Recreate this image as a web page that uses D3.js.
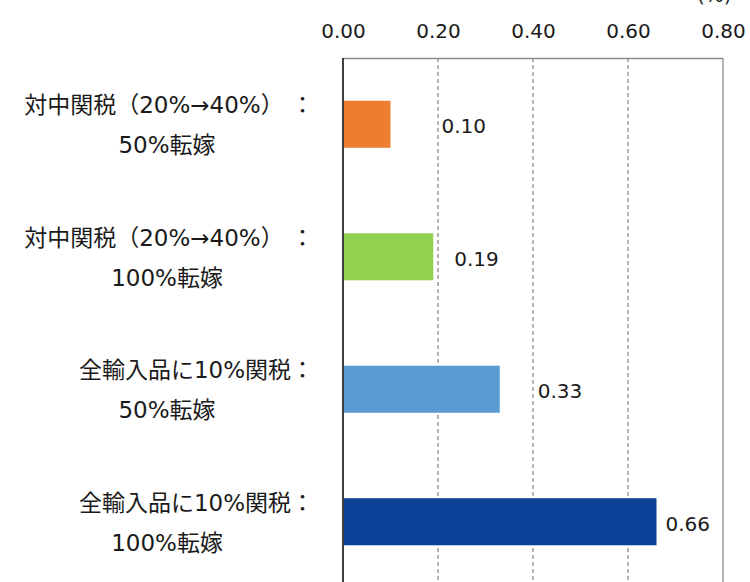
<!DOCTYPE html>
<html>
<head>
<meta charset="utf-8">
<script src="https://cdn.jsdelivr.net/npm/d3@7"></script>
<style>
  body { margin: 0; background: #fff; }
  text { font-family: "DejaVu Sans", "Noto Sans CJK JP", sans-serif; fill: #1a1a1a; }
</style>
</head>
<body>
<div id="chart"></div>
<script>
// categories, top to bottom (two lines each)
const labelLine1 = ["対中関税（20%→40%） ：", "対中関税（20%→40%） ：", "全輸入品に10%関税：", "全輸入品に10%関税："];
const labelLine2 = ["50%転嫁", "100%転嫁", "50%転嫁", "100%転嫁"];
const values = [0.10, 0.19, 0.33, 0.66];
const barColors = ["#ED7D31", "#92D050", "#5B9BD5", "#0C4197"];
const xTicks = [0, 0.2, 0.4, 0.6, 0.8];
const unitLabel = "(%)";

const width = 750;
const height = 582;
const margin = { top: 58, right: 27, bottom: -6, left: 343 };
const plotW = width - margin.left - margin.right;
const plotH = height - margin.top - margin.bottom;

const svg = d3.select("#chart").append("svg")
  .attr("width", width)
  .attr("height", height);

const xScale = d3.scaleLinear()
  .domain([0, 0.8])
  .range([0, plotW]);

const yScale = d3.scaleBand()
  .domain(d3.range(values.length))
  .range([0, plotH])
  .paddingInner(0.645)
  .paddingOuter(0.3225);

const g = svg.append("g")
  .attr("transform", "translate(" + margin.left + "," + margin.top + ")");

// dashed gridlines
g.selectAll(".grid")
  .data(xTicks.filter(function(d) { return d > 0 && d < 0.8; }))
  .enter().append("line")
  .attr("x1", function(d) { return xScale(d); })
  .attr("x2", function(d) { return xScale(d); })
  .attr("y1", 0)
  .attr("y2", plotH)
  .attr("stroke", "#8c8c8c")
  .attr("stroke-width", 1.3)
  .attr("stroke-dasharray", "4,3");

// frame top and right
g.append("line")
  .attr("x1", 0).attr("x2", xScale(0.8))
  .attr("y1", 0.5).attr("y2", 0.5)
  .attr("stroke", "#8c8c8c").attr("stroke-width", 1.3);
g.append("line")
  .attr("x1", xScale(0.8)).attr("x2", xScale(0.8))
  .attr("y1", 0).attr("y2", plotH)
  .attr("stroke", "#8c8c8c").attr("stroke-width", 1.3);

// top axis labels
const xAxis = d3.axisTop(xScale)
  .tickValues(xTicks)
  .tickFormat(d3.format(".2f"))
  .tickSize(0)
  .tickPadding(20);
const axisG = g.append("g").call(xAxis);
axisG.select(".domain").remove();
axisG.selectAll("text")
  .style("font-size", "20px")
  .attr("fill", "#1a1a1a");

svg.append("text")
  .attr("x", margin.left + xScale(0.8) - 26)
  .attr("y", 2)
  .style("font-size", "20px")
  .text(unitLabel);

// bars
g.selectAll(".bar")
  .data(values)
  .enter().append("rect")
  .attr("x", 0)
  .attr("y", function(d, i) { return yScale(i); })
  .attr("width", function(d) { return xScale(d); })
  .attr("height", yScale.bandwidth())
  .attr("fill", function(d, i) { return barColors[i]; });

// value labels (placed as in the original, not evenly)
const labelDx = [51, 21, 38, 9];
g.selectAll(".val")
  .data(values)
  .enter().append("text")
  .attr("x", function(d, i) { return xScale(d) + labelDx[i]; })
  .attr("y", function(d, i) { return yScale(i) + yScale.bandwidth() / 2 + 2; })
  .attr("dominant-baseline", "central")
  .style("font-size", "20px")
  .text(function(d) { return d3.format(".2f")(d); });

// left axis line
g.append("line")
  .attr("x1", 0).attr("x2", 0)
  .attr("y1", 0).attr("y2", plotH)
  .attr("stroke", "#404040").attr("stroke-width", 2);

// category labels
const cats = g.selectAll(".cat")
  .data(values)
  .enter().append("g")
  .attr("transform", function(d, i) {
    return "translate(0," + (yScale(i) + yScale.bandwidth() / 2) + ")";
  });
cats.append("text")
  .attr("x", -29)
  .attr("y", -19)
  .attr("text-anchor", "end")
  .attr("dominant-baseline", "central")
  .style("font-size", "23px")
  .text(function(d, i) { return labelLine1[i]; });
cats.append("text")
  .attr("x", -176)
  .attr("y", 21)
  .attr("text-anchor", "middle")
  .attr("dominant-baseline", "central")
  .style("font-size", "23px")
  .text(function(d, i) { return labelLine2[i]; });
</script>
</body>
</html>
